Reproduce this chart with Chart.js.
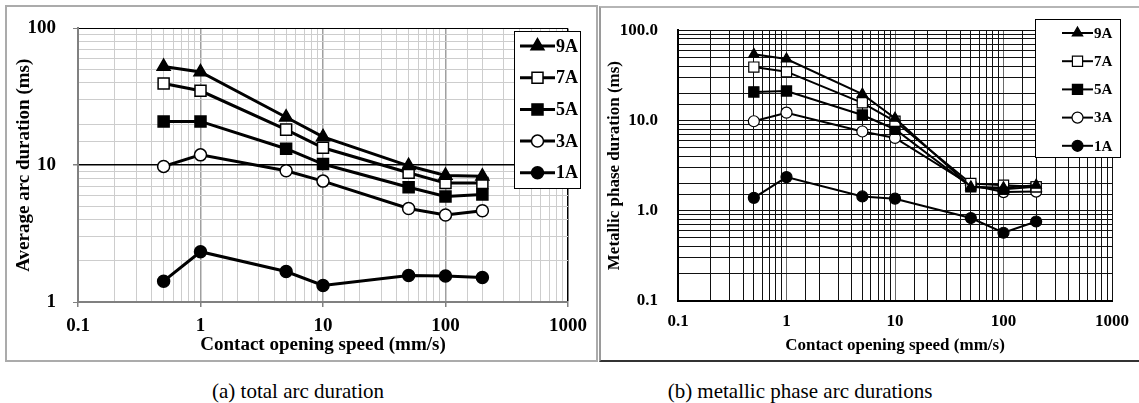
<!DOCTYPE html>
<html lang="en">
<head>
  <meta charset="UTF-8" />
  <title>Arc duration vs contact opening speed</title>
  <script src="https://cdn.jsdelivr.net/npm/chart.js"></script>
  <style>
    html, body { margin: 0; padding: 0; background: #fff; }
    body { width: 1139px; height: 403px; position: relative; overflow: hidden;
           font-family: "Liberation Serif", "Times New Roman", serif; }
    .frame { position: absolute; box-sizing: border-box; }
    #frameA { left: 5px; top: 5px; width: 593px; height: 357px; border: 2px solid #ababab; }
    #frameB { left: 599px; top: 6px; width: 560px; height: 356px;
              border-left: 2px solid #9a9a9a; border-top: 2px solid #b5b5b5; border-bottom: 2px solid #333; }
    canvas { position: absolute; top: 0; }
    #chartA { left: 0; }
    #chartB { left: 600px; }
    .caption { position: absolute; top: 379px; font-size: 21px; white-space: nowrap; transform: translateX(-50%); }
  </style>
</head>
<body>
  <div class="frame" id="frameA"></div>
  <div class="frame" id="frameB"></div>
  <canvas id="chartA" width="598" height="360"></canvas>
  <canvas id="chartB" width="539" height="360"></canvas>
  <div class="caption" style="left:298px">(a) total arc duration</div>
  <div class="caption" style="left:800px">(b) metallic phase arc durations</div>

  <script>
    // opening speed (mm/s)
    const speeds = [0.5, 1, 5, 10, 50, 100, 200];
    const currents = ['9A', '7A', '5A', '3A', '1A'];

    // (a) total arc duration (ms)
    const total9A = [52.6, 48, 22.4, 16.1, 9.9, 8.4, 8.3];
    const total7A = [39.5, 35, 18.2, 13.4, 8.8, 7.4, 7.4];
    const total5A = [20.9, 20.9, 13.2, 10.2, 6.9, 5.9, 6.1];
    const total3A = [9.8, 11.9, 9.1, 7.65, 4.83, 4.33, 4.65];
    const total1A = [1.42, 2.33, 1.67, 1.32, 1.56, 1.55, 1.51];

    // (b) metallic phase duration (ms)
    const metal9A = [54, 48, 19.6, 10.6, 1.84, 1.8, 1.92];
    const metal7A = [39, 34.7, 15.7, 9.8, 2.0, 1.92, 1.84];
    const metal5A = [20.7, 21.2, 11.5, 8.0, 1.84, 1.73, 1.84];
    const metal3A = [9.8, 12.2, 7.55, 6.4, 1.92, 1.61, 1.63];
    const metal1A = [1.39, 2.36, 1.44, 1.36, 0.83, 0.57, 0.76];

    const markerStyles = ['triangle', 'rect', 'rect', 'circle', 'circle'];
    const markerFills = ['#000', '#fff', '#000', '#fff', '#000'];
    const FONT = '"Liberation Serif", "Times New Roman", serif';

    const isDecade = v => {
      const l = Math.log10(v);
      return Math.abs(l - Math.round(l)) < 1e-6;
    };

    function makeDatasets(series, lineW, radii) {
      return series.map((vals, i) => ({
        label: currents[i],
        data: speeds.map((s, k) => ({ x: s, y: vals[k] })),
        borderColor: '#000',
        borderWidth: lineW,
        pointStyle: markerStyles[i],
        pointRadius: radii[i],
        pointBackgroundColor: markerFills[i],
        pointBorderColor: '#000',
        pointBorderWidth: lineW > 2 ? 1.5 : 1.2,
        tension: 0
      }));
    }

    function drawMarker(ctx, style, x, y, r) {
      ctx.beginPath();
      if (style === 'triangle') {
        let a = 0;
        ctx.moveTo(x + Math.sin(a) * r, y - Math.cos(a) * r);
        a += Math.PI * 2 / 3;
        ctx.lineTo(x + Math.sin(a) * r, y - Math.cos(a) * r);
        a += Math.PI * 2 / 3;
        ctx.lineTo(x + Math.sin(a) * r, y - Math.cos(a) * r);
        ctx.closePath();
      } else if (style === 'rect') {
        const s = r * Math.SQRT1_2;
        ctx.rect(x - s, y - s, 2 * s, 2 * s);
      } else {
        ctx.arc(x, y, r, 0, Math.PI * 2);
      }
      ctx.fill();
      ctx.stroke();
    }

    // legend box drawn inside the plot, like the original
    const boxLegend = {
      id: 'boxLegend',
      afterDraw(chart, args, o) {
        const ctx = chart.ctx;
        ctx.save();
        ctx.fillStyle = '#fff';
        ctx.strokeStyle = '#000';
        ctx.lineWidth = 1;
        ctx.fillRect(o.x, o.y, o.w, o.h);
        ctx.strokeRect(o.x + 0.5, o.y + 0.5, o.w, o.h);
        ctx.font = 'bold ' + o.fontSize + 'px ' + FONT;
        ctx.textBaseline = 'middle';
        chart.data.datasets.forEach((ds, i) => {
          const y = o.y + o.first + i * o.gap;
          ctx.strokeStyle = '#000';
          ctx.lineWidth = ds.borderWidth;
          ctx.beginPath();
          ctx.moveTo(o.x0, y);
          ctx.lineTo(o.x1, y);
          ctx.stroke();
          ctx.fillStyle = ds.pointBackgroundColor;
          ctx.lineWidth = ds.pointBorderWidth;
          drawMarker(ctx, ds.pointStyle, (o.x0 + o.x1) / 2, y, ds.pointRadius);
          ctx.fillStyle = '#000';
          ctx.fillText(ds.label, o.x1 + 1, y + 1);
        });
        ctx.restore();
      }
    };

    // (a)
    new Chart(document.getElementById('chartA'), {
      type: 'line',
      data: { datasets: makeDatasets([total9A, total7A, total5A, total3A, total1A], 3, [7.5, 7.8, 7.8, 6, 6]) },
      plugins: [boxLegend],
      options: {
        responsive: false,
        devicePixelRatio: 1,
        animation: false,
        layout: { padding: { left: 9, top: 24, right: 30, bottom: 0 } },
        plugins: {
          legend: { display: false },
          tooltip: { enabled: false },
          boxLegend: { x: 514, y: 31, w: 66, h: 157, first: 15, gap: 31.7, x0: 520, x1: 555, fontSize: 18 }
        },
        scales: {
          x: {
            type: 'logarithmic', min: 0.1, max: 1000,
            afterFit: s => { s.height = 58; },
            ticks: { autoSkip: false, maxRotation: 0, padding: 8, color: '#000',
                     font: { family: FONT, size: 19, weight: 'bold' },
                     callback: v => isDecade(v) ? String(Number(v.toPrecision(1))) : '' },
            grid: {
              color: c => !c.tick ? '#ccc' : (c.tick.value >= 999 ? '#000' : (isDecade(c.tick.value) ? '#a0a0a0' : '#cdcdcd')),
              lineWidth: c => c.tick && isDecade(c.tick.value) ? 1.5 : 1,
              drawTicks: true, tickLength: 5,
              tickColor: c => c.tick && isDecade(c.tick.value) ? '#808080' : 'rgba(0,0,0,0)'
            },
            border: { color: '#808080', width: 2 },
            title: { display: true, text: 'Contact opening speed (mm/s)', color: '#000',
                     font: { family: FONT, size: 19, weight: 'bold' }, padding: { top: 0, bottom: 4 } }
          },
          y: {
            type: 'logarithmic', min: 1, max: 100,
            afterFit: s => { s.width = 69; },
            ticks: { autoSkip: false, padding: 17, color: '#000',
                     font: { family: FONT, size: 19, weight: 'bold' },
                     callback: v => isDecade(v) ? String(Math.round(v)) : '' },
            grid: {
              color: c => c.tick && isDecade(c.tick.value) ? '#000' : '#cdcdcd',
              lineWidth: c => c.tick && Math.abs(c.tick.value - 10) < 1e-6 ? 1.5 : 1,
              drawTicks: true, tickLength: 5,
              tickColor: c => c.tick && isDecade(c.tick.value) ? '#808080' : 'rgba(0,0,0,0)'
            },
            border: { color: '#808080', width: 2 },
            title: { display: true, text: 'Average arc duration (ms)', color: '#000',
                     font: { family: FONT, size: 19, weight: 'bold' }, padding: { top: 4, bottom: 0 } }
          }
        }
      }
    });

    // (b)
    new Chart(document.getElementById('chartB'), {
      type: 'line',
      data: { datasets: makeDatasets([metal9A, metal7A, metal5A, metal3A, metal1A], 2, [6, 7.2, 7.2, 5.5, 5.5]) },
      plugins: [boxLegend],
      options: {
        responsive: false,
        devicePixelRatio: 1,
        animation: false,
        layout: { padding: { left: 0, top: 18, right: 20, bottom: 0 } },
        plugins: {
          legend: { display: false },
          tooltip: { enabled: false },
          boxLegend: { x: 435, y: 19, w: 85, h: 138, first: 14, gap: 28.2, x0: 462, x1: 493, fontSize: 15 }
        },
        scales: {
          x: {
            type: 'logarithmic', min: 0.1, max: 1000,
            afterFit: s => { s.height = 59; },
            ticks: { autoSkip: false, maxRotation: 0, padding: 10, color: '#000',
                     font: { family: FONT, size: 17, weight: 'bold' },
                     callback: v => isDecade(v) ? String(Number(v.toPrecision(1))) : '' },
            grid: {
              color: c => c.tick && isDecade(c.tick.value) && c.tick.value > 0.5 && c.tick.value < 500 ? '#6a6a6a' : '#111',
              lineWidth: 1,
              drawTicks: false
            },
            border: { color: '#000', width: 2 },
            title: { display: true, text: 'Contact opening speed (mm/s)', color: '#000',
                     font: { family: FONT, size: 17, weight: 'bold' }, padding: { top: 0, bottom: 4 } }
          },
          y: {
            type: 'logarithmic', min: 0.1, max: 100,
            afterFit: s => { s.width = 78; },
            ticks: { autoSkip: false, padding: 20, color: '#000',
                     font: { family: FONT, size: 17, weight: 'bold' },
                     callback: v => isDecade(v) ? v.toFixed(1) : '' },
            grid: { color: '#111', lineWidth: 1, drawTicks: false },
            border: { color: '#000', width: 2 },
            title: { display: true, text: 'Metallic phase duration (ms)', color: '#000',
                     font: { family: FONT, size: 17, weight: 'bold' }, padding: { top: 4, bottom: 0 } }
          }
        }
      }
    });
  </script>
</body>
</html>
